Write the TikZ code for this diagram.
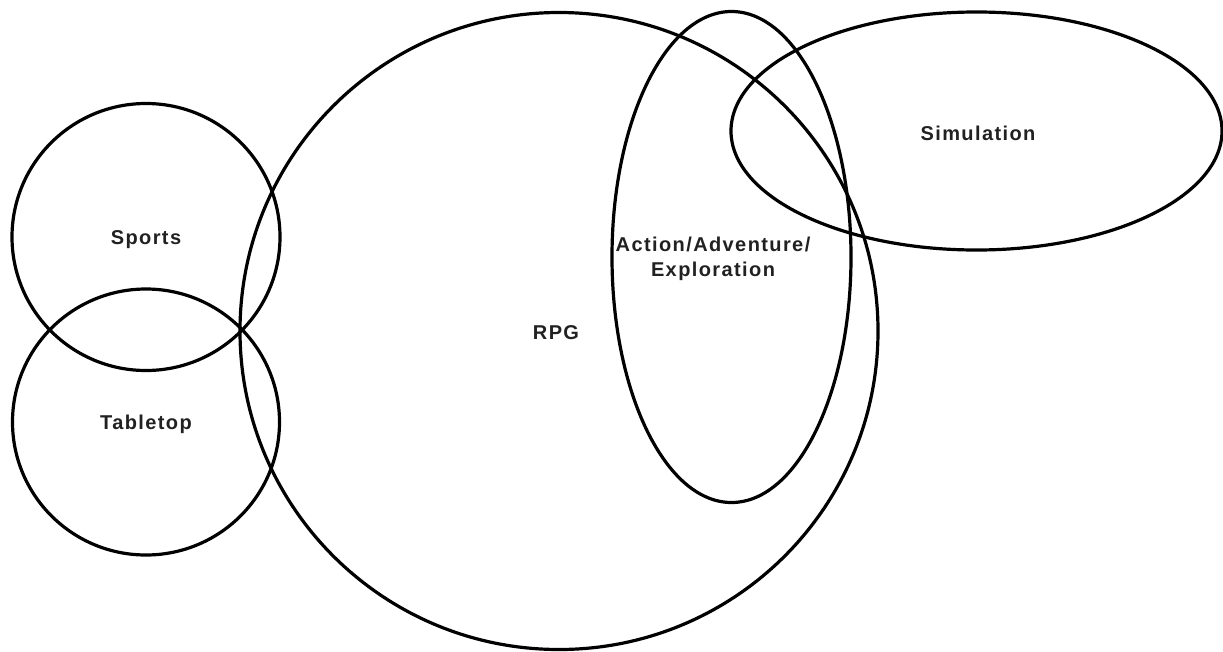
\documentclass[tikz,border=0pt]{standalone}
\usepackage{fontspec}
\newfontfamily\lblfont{Liberation Sans}[LetterSpace=7]
\usetikzlibrary{shapes.geometric}
\tikzset{
  setshape/.style={draw=black, line width=3.2pt, ellipse, inner sep=0pt, outer sep=0pt},
  setlabel/.style={font=\lblfont\bfseries\fontsize{20}{25}\selectfont, text=black!87, align=center, inner sep=0pt}
}
\begin{document}
\begin{tikzpicture}[x=1pt,y=-1pt]
\useasboundingbox (0,0) rectangle (1223,651);
\node[setshape, minimum width=638pt, minimum height=637pt] (rpg) at (559,331) {};
\node[setshape, minimum width=268pt, minimum height=267pt] (sports) at (146,237) {};
\node[setshape, minimum width=267pt, minimum height=266pt] (tabletop) at (146,422) {};
\node[setshape, minimum width=239pt, minimum height=491pt] (action) at (731.5,257) {};
\node[setshape, minimum width=491pt, minimum height=238pt] (sim) at (976.5,131) {};
\node[setlabel] (sportslbl) at (146,240) {Sports};
\node[setlabel] (tabletoplbl) at (146,424) {Tabletop};
\node[setlabel] (rpglbl) at (556,333) {RPG};
\node[setlabel] (actionlbl) at (713,259) {Action/Adventure/\\Exploration};
\node[setlabel] (simlbl) at (978,133) {Simulation};
\end{tikzpicture}
\end{document}
